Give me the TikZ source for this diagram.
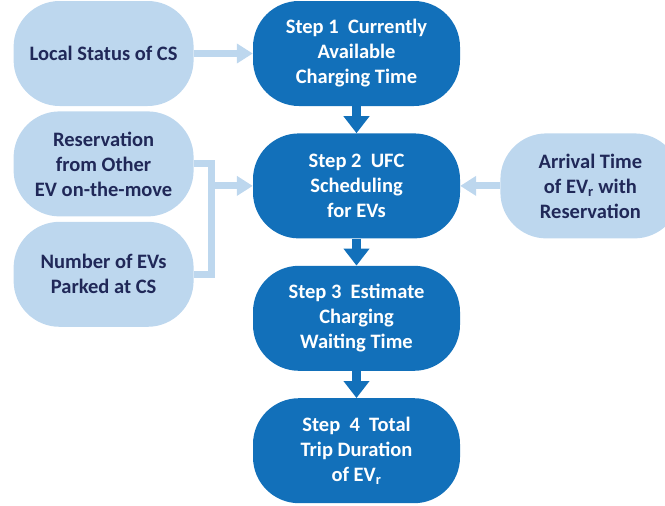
\documentclass[tikz,border=0pt]{standalone}
\usepackage{fontspec}
\setmainfont{Carlito}
\usetikzlibrary{positioning,arrows.meta}
\definecolor{stepblue}{RGB}{18,112,186}
\definecolor{inblue}{RGB}{189,215,238}
\definecolor{intext}{RGB}{32,40,88}
\tikzset{
  boxfont/.style={font=\fontsize{20.5bp}{25bp}\selectfont\bfseries},
  stepbox/.style={boxfont,fill=stepblue,text=white,rounded corners=46bp,
    minimum width=207bp,minimum height=105bp,inner sep=0pt,align=center},
  inbox/.style={boxfont,fill=inblue,text=intext,rounded corners=46bp,
    minimum width=180bp,minimum height=105bp,inner sep=0pt,align=center},
  steparrow/.style={draw=stepblue,line width=9bp,-{Triangle[width=25bp,length=17bp]}},
  inline/.style={draw=inblue,line width=7bp},
  inarrow/.style={inline,-{Triangle[width=19bp,length=16bp]}}
}

\begin{document}
\begin{tikzpicture}[node distance=27bp]
  \useasboundingbox (0,0) rectangle (665bp,-506bp);
  \node[stepbox] (s1) at (356.5bp,-53.5bp) {Step 1\ \ Currently\\ Available\\ Charging Time};
  \node[stepbox] (s2) [below=of s1] {Step 2\ \ UFC\\ Scheduling\\ for EVs};
  \node[stepbox] (s3) [below=of s2] {Step 3\ \ Estimate\\ Charging\\ Waiting Time};
  \node[stepbox] (s4) [below=of s3] {Step\ \ 4\ \ Total\\ Trip Duration\\ of EV\textsubscript{r}};
  \node[inbox] (local) [left=59bp of s1] {Local Status of CS};
  \node[inbox] (resv) [below=5bp of local] {Reservation\\ from Other\\ EV on-the-move};
  \node[inbox] (num) [below=5bp of resv] {Number of EVs\\ Parked at CS};
  \node[inbox] (arrival) [right=40bp of s2] {Arrival Time\\ of EV\textsubscript{r} with\\ Reservation};
  \coordinate[left=41bp of s2.west] (join);
  \draw[inarrow] (local) -- (s1);
  \draw[inline] (resv.east) -| (join) |- (num.east);
  \draw[inarrow] (join) -- (s2);
  \draw[inarrow] (arrival) -- (s2);
  \draw[steparrow] (s1) -- (s2);
  \draw[steparrow] (s2) -- (s3);
  \draw[steparrow] (s3) -- (s4);
\end{tikzpicture}
\end{document}
